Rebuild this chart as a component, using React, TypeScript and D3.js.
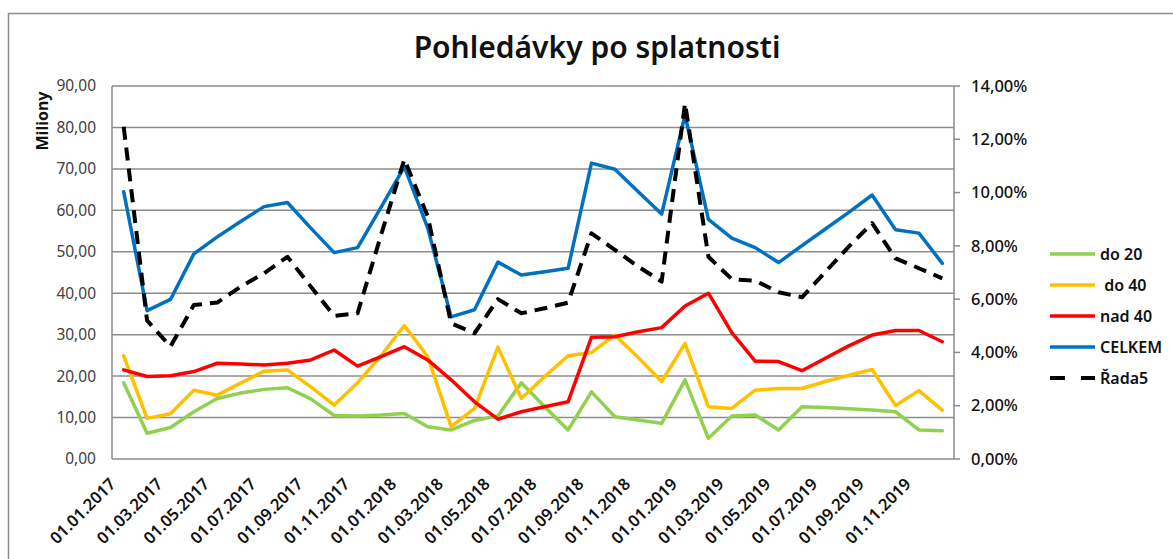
import React, { useRef, useEffect } from 'react';
import * as d3 from 'd3';

// monthly categories 01.2017 - 12.2019
const months = [
  '01.01.2017', '01.02.2017', '01.03.2017', '01.04.2017', '01.05.2017', '01.06.2017',
  '01.07.2017', '01.08.2017', '01.09.2017', '01.10.2017', '01.11.2017', '01.12.2017',
  '01.01.2018', '01.02.2018', '01.03.2018', '01.04.2018', '01.05.2018', '01.06.2018',
  '01.07.2018', '01.08.2018', '01.09.2018', '01.10.2018', '01.11.2018', '01.12.2018',
  '01.01.2019', '01.02.2019', '01.03.2019', '01.04.2019', '01.05.2019', '01.06.2019',
  '01.07.2019', '01.08.2019', '01.09.2019', '01.10.2019', '01.11.2019', '01.12.2019',
];

// values in millions
const do20 = [
  18.4, 6.2, 7.6, 11.4, 14.6, 15.9, 16.8, 17.2, 14.5, 10.5, 10.4, 10.6,
  11.0, 7.8, 7.0, 9.3, 10.4, 18.4, 12.6, 7.0, 16.2, 10.2, 9.4, 8.6,
  19.1, 5.0, 10.4, 10.6, 7.0, 12.6, 12.4, 12.1, 11.8, 11.4, 7.0, 6.8,
];
const do40 = [
  24.9, 9.8, 10.9, 16.6, 15.4, 18.3, 21.2, 21.5, 17.4, 13.0, 18.4, 24.9,
  32.2, 24.7, 7.8, 12.2, 27.0, 14.6, 19.9, 24.9, 25.7, 29.9, 24.5, 18.7,
  27.9, 12.6, 12.2, 16.6, 17.0, 17.0, 18.7, 20.2, 21.6, 12.9, 16.5, 11.8,
];
const nad40 = [
  21.5, 19.9, 20.1, 21.1, 23.1, 22.9, 22.7, 23.1, 23.9, 26.3, 22.4, 24.7,
  27.1, 23.9, 19.1, 13.8, 9.6, 11.4, 12.6, 13.8, 29.4, 29.5, 30.7, 31.7,
  36.9, 40.0, 30.5, 23.6, 23.5, 21.3, 24.3, 27.3, 29.9, 31.0, 31.0, 28.3,
];
const celkem = [
  64.5, 35.8, 38.5, 49.5, 53.6, 57.3, 60.9, 61.9, 55.7, 49.8, 51.0, 60.7,
  70.5, 55.7, 34.3, 36.0, 47.5, 44.4, 45.2, 46.0, 71.4, 69.9, 64.5, 59.1,
  83.0, 57.8, 53.3, 51.0, 47.4, 51.5, 55.5, 59.5, 63.7, 55.3, 54.5, 47.2,
];
// right axis, ratio
const rada5 = [
  0.1247, 0.052, 0.0422, 0.0578, 0.0587, 0.0647, 0.0697, 0.0759, 0.0647, 0.0537, 0.0547, 0.084,
  0.1125, 0.091, 0.0509, 0.0472, 0.060, 0.0547, 0.0566, 0.0587, 0.0847, 0.0785, 0.0722, 0.0666,
  0.1335, 0.0759, 0.0675, 0.0669, 0.0626, 0.0607, 0.0702, 0.0797, 0.0885, 0.0753, 0.0716, 0.0678,
];

const leftTicks = [0, 10, 20, 30, 40, 50, 60, 70, 80, 90];
const rightTicks = [0, 0.02, 0.04, 0.06, 0.08, 0.1, 0.12, 0.14];

const series = [
  { name: 'do 20', values: do20, color: '#92D050', dashed: false, axis: 'left' },
  { name: ' do 40', values: do40, color: '#FFC000', dashed: false, axis: 'left' },
  { name: 'nad 40', values: nad40, color: '#FF0000', dashed: false, axis: 'left' },
  { name: 'CELKEM', values: celkem, color: '#0070C0', dashed: false, axis: 'left' },
  { name: 'Řada5', values: rada5, color: '#000000', dashed: true, axis: 'right' },
];

const czech = d3.formatLocale({ decimal: ',', thousands: ' ', grouping: [3], currency: ['', ''] });

function App() {
  const svgRef = useRef<SVGSVGElement>(null);

  useEffect(() => {
    const width = 1173;
    const height = 559;
    const font = "'Noto Sans', 'Open Sans', sans-serif";
    const svg = d3.select(svgRef.current);
    svg.selectAll('*').remove();
    svg.attr('width', width).attr('height', height);

    const plot = { left: 112, right: 954, top: 86, bottom: 459 };

    // outer chart border
    svg.append('rect')
      .attr('x', 8.5).attr('y', 13.5)
      .attr('width', 1300).attr('height', 700)
      .attr('fill', '#fff')
      .attr('stroke', '#8c8c8c')
      .attr('stroke-width', 1.5);

    const x = d3.scaleBand<string>()
      .domain(months)
      .range([plot.left, plot.right])
      .padding(0);
    const cx = (i: number) => (x(months[i]) as number) + x.bandwidth() / 2;

    const yL = d3.scaleLinear().domain([0, 90]).range([plot.bottom, plot.top]);
    const yR = d3.scaleLinear().domain([0, 0.14]).range([plot.bottom, plot.top]);

    // gridlines
    svg.append('g')
      .selectAll('line')
      .data(leftTicks)
      .enter()
      .append('line')
      .attr('x1', plot.left).attr('x2', plot.right)
      .attr('y1', d => yL(d)).attr('y2', d => yL(d))
      .attr('stroke', '#8c8c8c')
      .attr('stroke-width', 1.5);

    // axis lines
    svg.append('line')
      .attr('x1', plot.left).attr('x2', plot.left)
      .attr('y1', plot.top).attr('y2', plot.bottom)
      .attr('stroke', '#8c8c8c').attr('stroke-width', 1.5);
    svg.append('line')
      .attr('x1', plot.right).attr('x2', plot.right)
      .attr('y1', plot.top).attr('y2', plot.bottom)
      .attr('stroke', '#8c8c8c').attr('stroke-width', 1.5);

    // left axis labels
    svg.append('g')
      .selectAll('text')
      .data(leftTicks)
      .enter()
      .append('text')
      .attr('x', 96)
      .attr('y', d => yL(d))
      .attr('dy', '0.35em')
      .attr('text-anchor', 'end')
      .attr('font-family', font)
      .attr('font-size', 15.5)
      .attr('fill', '#404040')
      .text(d => czech.format(',.2f')(d));

    // right axis ticks + labels
    svg.append('g')
      .selectAll('line')
      .data(rightTicks)
      .enter()
      .append('line')
      .attr('x1', plot.right).attr('x2', plot.right + 6)
      .attr('y1', d => yR(d)).attr('y2', d => yR(d))
      .attr('stroke', '#8c8c8c').attr('stroke-width', 1.5);

    svg.append('g')
      .selectAll('text')
      .data(rightTicks)
      .enter()
      .append('text')
      .attr('x', 971)
      .attr('y', d => yR(d))
      .attr('dy', '0.35em')
      .attr('font-family', font)
      .attr('font-size', 16.5)
      .attr('font-weight', 500)
      .attr('fill', '#111')
      .text(d => czech.format('.2%')(d));

    // x labels every other month
    svg.append('g')
      .selectAll('text')
      .data(months.filter((_, i) => i % 2 === 0))
      .enter()
      .append('text')
      .attr('transform', d => `translate(${(x(d) as number) + x.bandwidth() / 2 - 11},${plot.bottom + 22}) rotate(-45)`)
      .attr('text-anchor', 'end')
      .attr('dy', '0.35em')
      .attr('font-family', font)
      .attr('font-size', 16.5)
      .attr('font-weight', 600)
      .attr('fill', '#111')
      .text(d => d);

    // axis title
    svg.append('text')
      .attr('transform', `translate(48,121) rotate(-90)`)
      .attr('text-anchor', 'middle')
      .attr('font-family', font)
      .attr('font-size', 16)
      .attr('font-weight', 700)
      .attr('fill', '#111')
      .text('Miliony');

    // title
    svg.append('text')
      .attr('x', 597)
      .attr('y', 58)
      .attr('text-anchor', 'middle')
      .attr('font-family', font)
      .attr('font-size', 30)
      .attr('font-weight', 600)
      .attr('fill', '#111')
      .text('Pohledávky po splatnosti');

    // lines
    series.forEach(s => {
      const yScale = s.axis === 'left' ? yL : yR;
      const line = d3.line<number>()
        .x((_, i) => cx(i))
        .y(d => yScale(d));
      svg.append('path')
        .datum(s.values)
        .attr('d', line)
        .attr('fill', 'none')
        .attr('stroke', s.color)
        .attr('stroke-width', s.dashed ? 4 : 3.5)
        .attr('stroke-linejoin', 'round')
        .attr('stroke-linecap', s.dashed ? 'butt' : 'round')
        .attr('stroke-dasharray', s.dashed ? '13,8' : null);
    });

    // legend
    const legend = svg.append('g').attr('transform', 'translate(1050,254)');
    series.forEach((s, i) => {
      const row = legend.append('g').attr('transform', `translate(0,${i * 31})`);
      if (s.dashed) {
        row.append('line')
          .attr('x1', 0).attr('x2', 15).attr('y1', 0).attr('y2', 0)
          .attr('stroke', s.color).attr('stroke-width', 4);
        row.append('line')
          .attr('x1', 31).attr('x2', 45).attr('y1', 0).attr('y2', 0)
          .attr('stroke', s.color).attr('stroke-width', 4);
      } else {
        row.append('line')
          .attr('x1', 0).attr('x2', 45).attr('y1', 0).attr('y2', 0)
          .attr('stroke', s.color).attr('stroke-width', 3.5);
      }
      row.append('text')
        .attr('x', 50)
        .attr('y', 0)
        .attr('dy', '0.35em')
        .attr('font-family', font)
        .attr('font-size', 16)
        .attr('font-weight', 600)
        .attr('fill', '#111')
        .attr('xml:space', 'preserve')
        .style('white-space', 'pre')
        .text(s.name);
    });
  }, []);

  return (
    <div style={{ position: 'absolute', left: 0, top: 0 }}>
      <svg ref={svgRef} style={{ display: 'block' }}></svg>
    </div>
  );
}

export default App;
